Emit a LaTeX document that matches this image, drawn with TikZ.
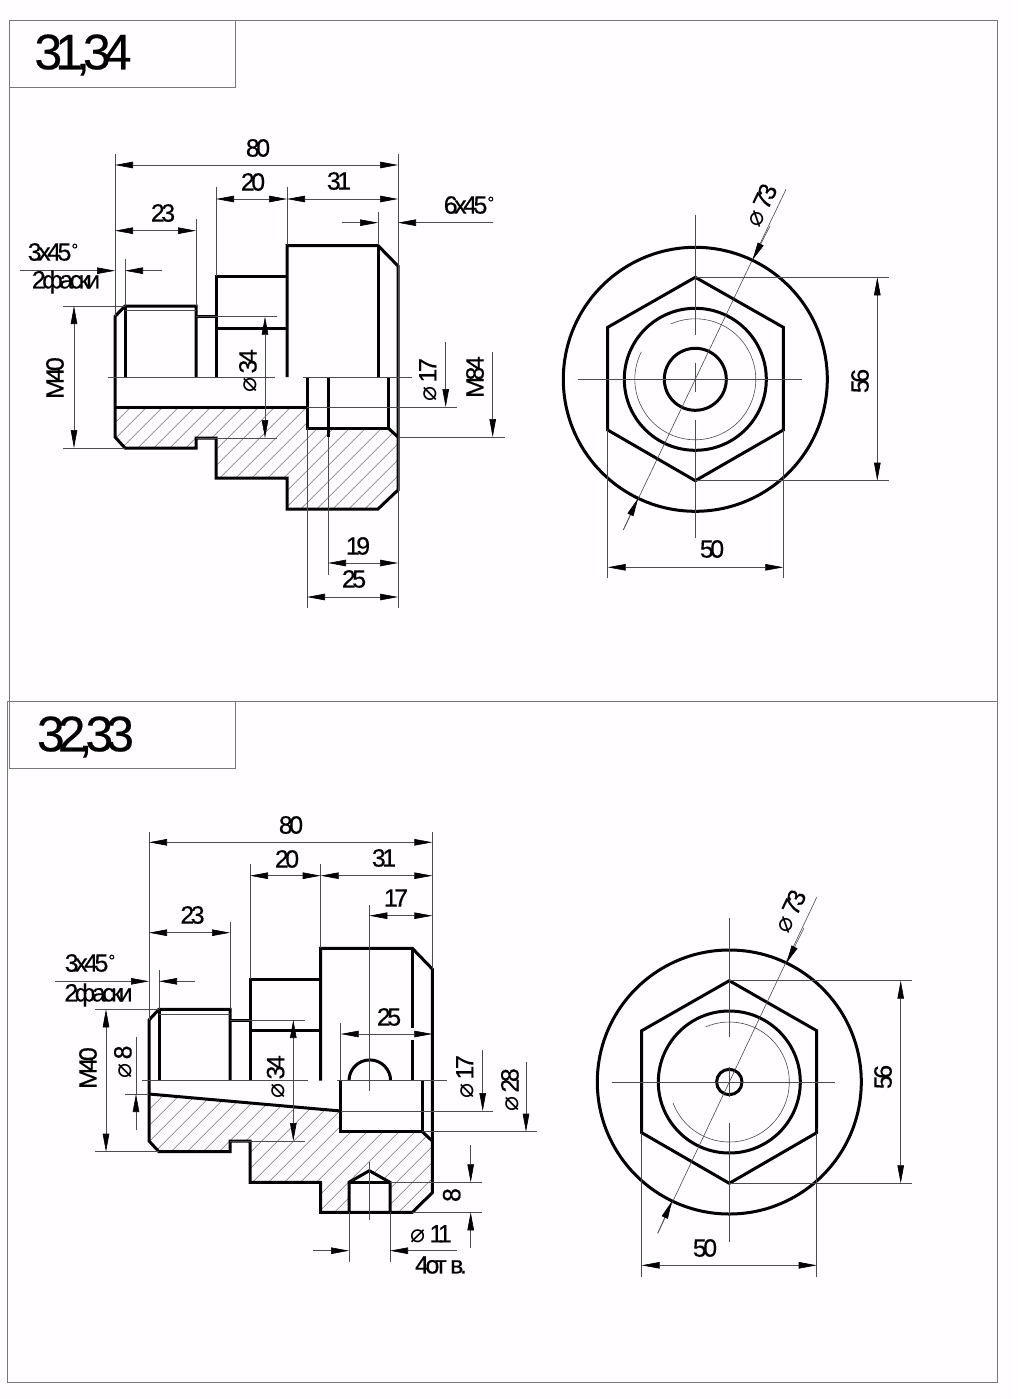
\documentclass[tikz,border=0pt]{standalone}
\usepackage{fontspec}
\usepackage{xcolor}
\setmainfont{Liberation Sans}[LetterSpace=-14,FakeBold=0.35]
\newfontfamily\symfont{DejaVu Sans}
\usetikzlibrary{arrows.meta}
\definecolor{sheet}{RGB}{255,253,255}
\definecolor{framegray}{RGB}{120,120,120}
\newcommand{\diam}{{\symfont\fontsize{25}{25}\selectfont ⌀}\,}
\newcommand{\dg}{\raisebox{5pt}{\fontsize{17}{17}\selectfont °}}

\begin{document}
\begin{tikzpicture}[x=1pt,y=-1pt,
    >={Triangle[length=18pt,width=6.5pt,color=black]},
    frameline/.style={draw=framegray,line width=0.9pt},
    outline/.style={draw=black,line width=3pt,line join=miter},
    thinline/.style={draw=black!70,line width=0.6pt},
    hatchline/.style={draw=black!55,line width=0.5pt},
    dimtext/.style={font=\fontsize{25}{25}\selectfont,inner sep=0pt},
    titletext/.style={font=\fontsize{50}{50}\selectfont,inner sep=0pt}]
  \useasboundingbox (0,0) rectangle (1017,1399);
  \fill[sheet] (0,0) rectangle (1017,1399);

  % frames
  \draw[frameline] (9.5,20.5) rectangle (997.5,701.5);
  \draw[frameline] (7.5,701.5) rectangle (997.5,1382.5);
  \draw[frameline] (9.5,20.5) rectangle (235.5,87.5);
  \draw[frameline] (9.5,701.5) rectangle (235.5,768);
  \node[titletext] (title1) at (83,55) {31,34};
  \node[titletext] (title2) at (85.5,737) {32,33};

  % upper section
  \begin{scope}
    \clip (115,407) -- (307,407) -- (307,428) -- (388,428) -- (398,437) -- (398,490) -- (378,509) -- (287,509) -- (287,478) -- (216,478) -- (216,438) -- (196,438) -- (196,448) -- (125,448) -- (115,437) -- cycle;
    \foreach \i in {0,...,24}
      \draw[hatchline] (1.7+\i*16,520) -- ++(130,-130);
  \end{scope}
  \draw[outline] (115,377) -- (115,316.5) -- (125,306) -- (196,306) -- (196,377);
  \draw[outline] (125,306) -- (125,377);
  \draw[outline] (196,316) -- (216,316);
  \draw[outline] (216,377) -- (216,276) -- (287,276);
  \draw[outline] (216,328) -- (287,328);
  \draw[outline] (287,377) -- (287,245.5) -- (378,245.5) -- (398,266) -- (398,490) -- (378,509) -- (287,509) -- (287,478) -- (216,478) -- (216,438) -- (196,438) -- (196,448) -- (125,448) -- (115,437) -- (115,377);
  \draw[outline] (378,245.5) -- (378,377);
  \draw[outline] (115,407) -- (307,407);
  \draw[outline] (307,377) -- (307,428) -- (388,428) -- (388,377);
  \draw[outline] (388,428) -- (398,437);
  \draw[outline] (328,377) -- (328,437);
  \draw[thinline] (125,310) -- (196,310);

  % upper section dimensions
  \draw[thinline] (108,377.3) -- (275,377.3);
  \draw[thinline] (303,377.3) -- (412,377.3);
  \draw[thinline] (115,154) -- (115,316);
  \draw[thinline] (398,154) -- (398,608);
  \draw[thinline] (216,187) -- (216,276);
  \draw[thinline] (287,187) -- (287,245);
  \draw[thinline] (196,219) -- (196,306);
  \draw[thinline] (378,212) -- (378,245);
  \draw[thinline] (125,259) -- (125,306);
  \draw[thinline] (63,306) -- (125,306);
  \draw[thinline] (63,448) -- (125,448);
  \draw[thinline] (196,316.7) -- (277,316.7);
  \draw[thinline] (196,438) -- (277,438);
  \draw[thinline] (307,407) -- (457,407);
  \draw[thinline] (398,437) -- (505,437);
  \draw[thinline] (328,437) -- (328,575);
  \draw[thinline] (307,428) -- (307,608);
  \draw[thinline,<->] (115,165) -- (398,165);
  \draw[thinline,<->] (216,199) -- (287,199);
  \draw[thinline,<->] (287,199) -- (398,199);
  \draw[thinline,<->] (115,230.7) -- (196,230.7);
  \draw[thinline,->] (342,222.7) -- (378,222.7);
  \draw[thinline,->] (493,222.7) -- (398,222.7);
  \draw[thinline,->] (20,270.7) -- (115,270.7);
  \draw[thinline,->] (162,270.7) -- (125,270.7);
  \draw[thinline,<->] (74,306) -- (74,448);
  \draw[thinline,<->] (265,316.7) -- (265,438);
  \draw[thinline,->] (445.7,342) -- (445.7,407);
  \draw[thinline,->] (492.7,352) -- (492.7,437);
  \draw[thinline,<->] (328,563) -- (398,563);
  \draw[thinline,<->] (307,597) -- (398,597);
  \node[dimtext] (a80) at (258,148) {80};
  \node[dimtext] (a20) at (253,182) {20};
  \node[dimtext] (a31) at (339,181) {31};
  \node[dimtext] (a23) at (163,213) {23};
  \node[dimtext] (a6x) at (469,205) {6x45\dg};
  \node[dimtext] (a3x) at (53,252) {3x45\dg};
  \node[dimtext] (afas) at (66,282) {2фаски};
  \node[dimtext,rotate=90] (am40) at (55,378) {M40};
  \node[dimtext,rotate=90] (ad34) at (248,371) {\diam 34};
  \node[dimtext,rotate=90] (ad17) at (428,380) {\diam 17};
  \node[dimtext,rotate=90] (am84) at (475,377) {M84};
  \node[dimtext] (a19) at (358,546) {19};
  \node[dimtext] (a25) at (354,579) {25};

  % upper end view
  \draw[outline] (695.3,379.3) circle (132);
  \draw[outline] (695.3,277.3) -- (783.3,327.3) -- (783.3,430) -- (695.3,480.7) -- (607.7,430) -- (607.7,327.3) -- cycle;
  \draw[outline] (695.3,379.3) circle (71);
  \draw[outline] (695.3,379.3) circle (31);
  \draw[thinline] (695.3,379.3) ++(-153:60.5) arc[start angle=-153,end angle=-474,radius=60.5];
  \draw[thinline] (578,379.3) -- (801.7,379.3);
  \draw[thinline] (695.3,215) -- (695.3,335);
  \draw[thinline] (695.3,362.7) -- (695.3,391.7);
  \draw[thinline] (695.3,420) -- (695.3,538);
  \draw[thinline] (786,189.3) -- (623.3,530);
  \draw[thinline,->] (770,226) -- (752.5,260);
  \draw[thinline,->] (623.3,530) -- (638,498.5);
  \draw[thinline] (695.3,277.3) -- (889,277.3);
  \draw[thinline] (695.3,480.7) -- (889,480.7);
  \draw[thinline] (607.7,430) -- (607.7,578);
  \draw[thinline] (783.3,430) -- (783.3,578);
  \draw[thinline,<->] (877.3,277.3) -- (877.3,480.7);
  \draw[thinline,<->] (607.7,567.3) -- (783.3,567.3);
  \node[dimtext,rotate=64.5] (ad73) at (761,205) {\diam 73};
  \node[dimtext,rotate=90] (a56) at (860,381) {56};
  \node[dimtext] (a50) at (712,549) {50};

  % lower section
  \begin{scope}
    \clip (149,1094) -- (340.7,1111) -- (340.7,1131.7) -- (422.3,1131.7) -- (432.3,1141) -- (432.3,1192.7) -- (412.3,1212.3) -- (320.7,1212.3) -- (320.7,1182.3) -- (250,1182.3) -- (250,1141) -- (230,1141) -- (230,1151.7) -- (159,1151.7) -- (149,1141) -- cycle;
    \foreach \i in {0,...,26}
      \draw[hatchline] (35.7+\i*16,1223) -- ++(130,-130);
  \end{scope}
  \fill[sheet] (349,1212.3) -- (349,1182.3) -- (369.3,1170.7) -- (390,1182.3) -- (390,1212.3) -- cycle;
  \draw[outline] (149,1080.7) -- (149,1020) -- (159,1009.3) -- (230,1009.3) -- (230,1080.7);
  \draw[outline] (159,1009.3) -- (159,1080.7);
  \draw[outline] (230,1020) -- (250,1020);
  \draw[outline] (250,1080.7) -- (250,979.3) -- (320.7,979.3);
  \draw[outline] (250,1030.7) -- (320.7,1030.7);
  \draw[outline] (320.7,1080.7) -- (320.7,948.3) -- (412.3,948.3) -- (432.3,969) -- (432.3,1192.7) -- (412.3,1212.3) -- (320.7,1212.3) -- (320.7,1182.3) -- (250,1182.3) -- (250,1141) -- (230,1141) -- (230,1151.7) -- (159,1151.7) -- (149,1141) -- (149,1080.7);
  \draw[outline] (412.3,948.3) -- (412.3,1028);
  \draw[outline] (412.3,1040) -- (412.3,1080.7);
  \draw[outline] (149,1094) -- (340.7,1111);
  \draw[outline] (340.7,1080.7) -- (340.7,1131.7) -- (422.3,1131.7) -- (422.3,1080.7);
  \draw[outline] (422.3,1131.7) -- (432.3,1141);
  \draw[outline] (349,1080.7) arc[start angle=180,end angle=360,radius=20.8];
  \draw[outline] (349,1212.3) -- (349,1182.3) -- (369.3,1170.7) -- (390,1182.3) -- (390,1212.3);
  \draw[outline] (349,1182.3) -- (390,1182.3);
  \draw[thinline] (159,1014) -- (230,1014);

  % lower section dimensions
  \draw[thinline] (142,1080.7) -- (308,1080.7);
  \draw[thinline] (337,1080.7) -- (447,1080.7);
  \draw[thinline] (149,831.7) -- (149,1020);
  \draw[thinline] (432.3,831.7) -- (432.3,969);
  \draw[thinline] (250,864) -- (250,979);
  \draw[thinline] (320.7,864) -- (320.7,948);
  \draw[thinline] (230,921.7) -- (230,1009);
  \draw[thinline] (159,970) -- (159,1009);
  \draw[thinline] (369.3,905) -- (369.3,1090.7);
  \draw[thinline] (369.3,1161.7) -- (369.3,1220);
  \draw[thinline] (340.7,1023) -- (340.7,1080);
  \draw[thinline] (95,1009.3) -- (159,1009.3);
  \draw[thinline] (95,1151.7) -- (159,1151.7);
  \draw[thinline] (125,1094) -- (149,1094);
  \draw[thinline] (230,1020) -- (305,1020);
  \draw[thinline] (230,1141) -- (305,1141);
  \draw[thinline] (340.7,1111) -- (493,1111);
  \draw[thinline] (422.3,1131.7) -- (537,1131.7);
  \draw[thinline] (390,1182.3) -- (481.7,1182.3);
  \draw[thinline] (412,1212.3) -- (481.7,1212.3);
  \draw[thinline] (349,1212.3) -- (349,1261.7);
  \draw[thinline] (390,1212.3) -- (390,1261.7);
  \draw[thinline,<->] (149,842.3) -- (432.3,842.3);
  \draw[thinline,<->] (250,875.7) -- (320.7,875.7);
  \draw[thinline,<->] (320.7,875.7) -- (432.3,875.7);
  \draw[thinline,<->] (369.3,915.7) -- (432.3,915.7);
  \draw[thinline,<->] (149,932.7) -- (230,932.7);
  \draw[thinline,->] (55,981.3) -- (149,981.3);
  \draw[thinline,->] (195,981.3) -- (159,981.3);
  \draw[thinline,<->] (106,1009.3) -- (106,1151.7);
  \draw[thinline] (136,1037) -- (136,1094);
  \draw[thinline,->] (136,1130) -- (136,1094);
  \draw[thinline,<->] (293.3,1020) -- (293.3,1141);
  \draw[thinline,<->] (340.7,1034) -- (432.3,1034);
  \draw[thinline,->] (482.7,1050) -- (482.7,1111);
  \draw[thinline,->] (526,1061.7) -- (526,1131.7);
  \draw[thinline,->] (470.7,1145) -- (470.7,1182.3);
  \draw[thinline,->] (470.7,1248) -- (470.7,1212.3);
  \draw[thinline,->] (313,1250.7) -- (349,1250.7);
  \draw[thinline,->] (456.7,1250.7) -- (390,1250.7);
  \node[dimtext] (b80) at (291,825) {80};
  \node[dimtext] (b20) at (287,859) {20};
  \node[dimtext] (b31) at (384,858) {31};
  \node[dimtext] (b17) at (396,898) {17};
  \node[dimtext] (b23) at (192.5,915) {23};
  \node[dimtext] (b3x) at (90,963) {3x45\dg};
  \node[dimtext] (bfas) at (98.5,995) {2фаски};
  \node[dimtext,rotate=90] (bm40) at (88,1068) {M40};
  \node[dimtext,rotate=90] (bd8) at (123,1062) {\diam 8};
  \node[dimtext,rotate=90] (bd34) at (275.7,1077) {\diam 34};
  \node[dimtext] (b25) at (389,1017) {25};
  \node[dimtext,rotate=90] (bd17) at (465,1077) {\diam 17};
  \node[dimtext,rotate=90] (bd28) at (510,1090) {\diam 28};
  \node[dimtext,rotate=90] (b8) at (451.7,1195) {8};
  \node[dimtext] (bd11) at (431,1234) {\diam 11};
  \node[dimtext] (b4ot) at (441,1265) {4от в.};

  % lower end view
  \draw[outline] (729.3,1082) circle (132);
  \draw[outline] (729.3,980.7) -- (816.7,1030.7) -- (816.7,1132.7) -- (729.3,1183.3) -- (641.7,1132.7) -- (641.7,1030.7) -- cycle;
  \draw[outline] (729.3,1082) circle (71);
  \draw[outline] (729.3,1082) circle (12.7);
  \draw[thinline] (729.3,1082) ++(-200.6:60) arc[start angle=-200.6,end angle=-473,radius=60];
  \draw[thinline] (611.7,1082) -- (835,1082);
  \draw[thinline] (729.3,918.3) -- (729.3,1037);
  \draw[thinline] (729.3,1066.7) -- (729.3,1096.7);
  \draw[thinline] (729.3,1123) -- (729.3,1242.3);
  \draw[thinline] (816.7,897.3) -- (657.7,1233.3);
  \draw[thinline,->] (804,928) -- (786.5,963);
  \draw[thinline,->] (657.7,1233.3) -- (672,1201);
  \draw[thinline] (729.3,980.7) -- (911.7,980.7);
  \draw[thinline] (729.3,1183.3) -- (911.7,1183.3);
  \draw[thinline] (641.7,1132.7) -- (641.7,1276.7);
  \draw[thinline] (816.7,1132.7) -- (816.7,1276.7);
  \draw[thinline,<->] (900.7,980.7) -- (900.7,1183.3);
  \draw[thinline,<->] (641.7,1265.3) -- (816.7,1265.3);
  \node[dimtext,rotate=64.5] (bd73) at (790,911) {\diam 73};
  \node[dimtext,rotate=90] (b56) at (883,1077) {56};
  \node[dimtext] (b50) at (705,1248) {50};
\end{tikzpicture}
\end{document}
